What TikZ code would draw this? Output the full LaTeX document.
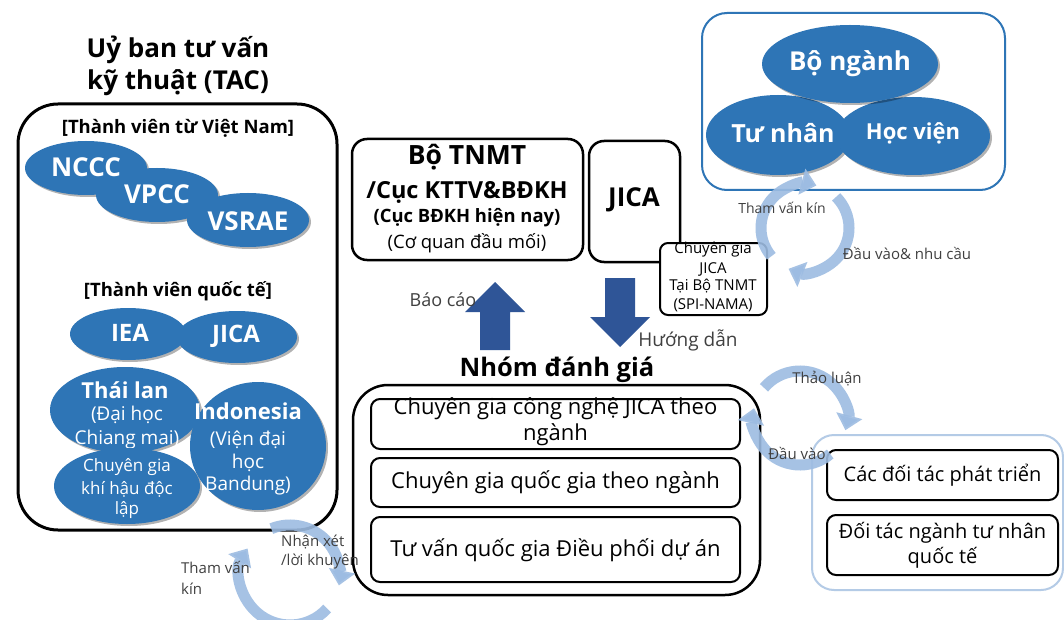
\documentclass[tikz,border=0pt]{standalone}
\usepackage{fontspec}
\setmainfont{Open Sans}
\usetikzlibrary{shapes.geometric,arrows.meta,shadows}
\definecolor{eblue}{HTML}{2E75B6}
\definecolor{ablue}{HTML}{2F5597}
\definecolor{tgray}{HTML}{404040}
\definecolor{lbox}{HTML}{B4CBE6}
\definecolor{cycblue}{HTML}{9DBCE2}
\newcommand{\fsz}[2]{\fontsize{#1}{#2}\selectfont}
\begin{document}
\begin{tikzpicture}[x=1pt,y=-1pt,
  blob/.style={ellipse, fill=eblue, draw=none, inner sep=0pt,
    drop shadow={shadow xshift=2pt, shadow yshift=-2pt, opacity=0.3, fill=black}},
  wt/.style={text=white, inner sep=0pt},
  tx/.style={inner sep=0pt},
  bigbox/.style={draw, line width=2.5pt, rounded corners=#1, inner sep=0pt, fill=white},
  inbox/.style={draw, line width=2pt, rounded corners=9pt, inner sep=0pt, fill=white},
  lbl/.style={inner sep=0pt, text=tgray},
  cyc/.style={line width=11pt, draw=cycblue, draw opacity=0.9,
    -{Triangle[width=26pt,length=15pt]}}
]
\useasboundingbox (0,0) rectangle (1064,620);
\fill[white] (0,0) rectangle (1064,620);

% ---------- TAC ----------
\node[tx, font=\bfseries\fsz{26}{32}, align=center] (tactitle) at (178,66) {Uỷ ban tư vấn\\kỹ thuật (TAC)};
\node[bigbox=40pt, line width=3pt, minimum width=319pt, minimum height=426pt] (tac) at (177.5,317) {};
\node[tx, font=\bfseries\fsz{18.5}{22}] (vn) at (178,128) {[Thành viên từ Việt Nam]};
\node[blob, minimum width=122pt, minimum height=54pt] (nccc) at (86,168) {};
\node[blob, minimum width=122pt, minimum height=54pt] (vpcc) at (157,195) {};
\node[blob, minimum width=122pt, minimum height=54pt] (vsrae) at (248,220) {};
\node[wt, font=\bfseries\fsz{26}{30}] at (86,167) {NCCC};
\node[wt, font=\bfseries\fsz{26}{30}] at (157,194) {VPCC};
\node[wt, font=\bfseries\fsz{26}{30}] at (248,221) {VSRAE};

\node[tx, font=\bfseries\fsz{18.5}{22}] (qt) at (178,291) {[Thành viên quốc tế]};
\node[blob, minimum width=116pt, minimum height=52pt] (iea) at (128,334) {};
\node[blob, minimum width=120pt, minimum height=52pt] (jica2) at (237,337) {};
\node[wt, font=\bfseries\fsz{24}{28}] at (130,333) {IEA};
\node[wt, font=\bfseries\fsz{24}{28}] at (236,336) {JICA};

\node[blob, minimum width=150pt, minimum height=86pt] (thai) at (125,410) {};
\node[wt, font=\bfseries\fsz{22}{26}] at (125,390) {Thái lan};
\node[wt, font=\fsz{19}{22}] at (127,415) {(Đại học};
\node[wt, font=\fsz{19}{22}] at (127,440) {Chiang mai)};
\node[blob, minimum width=146pt, minimum height=76pt] (cg) at (127,486) {};
\node[wt, font=\fsz{17}{20}] at (127,467) {Chuyên gia};
\node[wt, font=\fsz{17}{20}] at (127,489) {khí hậu độc};
\node[wt, font=\fsz{17}{20}] at (127,510) {lập};
\node[blob, minimum width=136pt, minimum height=128pt] (indo) at (258,446) {};
\node[wt, font=\bfseries\fsz{22}{26}] at (248,411) {Indonesia};
\node[wt, font=\fsz{19}{22}] at (248,440) {(Viện đại};
\node[wt, font=\fsz{19}{22}] at (248,463) {học};
\node[wt, font=\fsz{19}{22}] at (248,486) {Bandung)};

% ---------- Bo TNMT / JICA ----------
\node[bigbox=15pt, minimum width=231pt, minimum height=121pt] (tnmt) at (467.5,199.5) {};
\node[tx, font=\bfseries\fsz{26.5}{30}] at (467,157) {Bộ TNMT};
\node[tx, font=\bfseries\fsz{23.5}{28}] at (467,192) {/Cục KTTV\&BĐKH};
\node[tx, font=\bfseries\fsz{18.4}{22}] at (467,218) {(Cục BĐKH hiện nay)};
\node[tx, font=\fsz{18.5}{22}] at (467,243) {(Cơ quan đầu mối)};

\node[bigbox=15pt, minimum width=91pt, minimum height=121pt] (jica) at (634.5,201.5) {};
\node[tx, font=\bfseries\fsz{26}{30}] at (634,200) {JICA};

\node[inbox, rounded corners=8pt, minimum width=107pt, minimum height=72pt] (spi) at (713.5,279) {};
\begin{scope}
\clip (spi.north west) ++(0,-1) rectangle (spi.south east);
\node[tx, font=\fsz{15}{18}] at (713,250) {Chuyên gia};
\end{scope}
\node[tx, font=\fsz{15}{18}] at (713,269) {JICA};
\node[tx, font=\fsz{15}{18}] at (713,286) {Tại Bộ TNMT};
\node[tx, font=\fsz{15}{18}] at (713,305) {(SPI-NAMA)};

% block arrows
\fill[ablue] (495,282) -- (525,312) -- (510,312) -- (510,350) -- (480,350) -- (480,312) -- (465,312) -- cycle;
\fill[ablue] (605,278) -- (635,278) -- (635,317) -- (650,317) -- (620,347) -- (590,317) -- (605,317) -- cycle;
\node[lbl, font=\fsz{18}{21}] (baocao) at (443,300) {Báo cáo};
\node[lbl, font=\fsz{19}{22}] (huongdan) at (688,340) {Hướng dẫn};

% ---------- Nhom danh gia ----------
\node[tx, font=\bfseries\fsz{25.5}{30}] (nhomt) at (557,370) {Nhóm đánh giá};
\node[bigbox=35pt, minimum width=407pt, minimum height=210pt] (nhom) at (556.5,490) {};
\node[inbox, minimum width=369pt, minimum height=50pt] (b1) at (555.5,424) {};
\node[tx, font=\fsz{22}{26}, align=center] at (555.5,422) {Chuyên gia công nghệ JICA theo\\ngành};
\node[inbox, minimum width=369pt, minimum height=49pt] (b2) at (555.5,482.5) {};
\node[tx, font=\fsz{22}{26}] at (555.5,482) {Chuyên gia quốc gia theo ngành};
\node[inbox, minimum width=369pt, minimum height=65pt] (b3) at (555.5,549.5) {};
\node[tx, font=\fsz{22}{26}] at (555.5,550) {Tư vấn quốc gia Điều phối dự án};

% ---------- Top right group ----------
\node[draw=eblue, line width=2pt, rounded corners=25pt, inner sep=0pt, minimum width=303pt, minimum height=177pt] (grp) at (853.5,101.5) {};
\node[blob, minimum width=144pt, minimum height=80pt] (tunhan) at (778,135) {};
\node[blob, minimum width=154pt, minimum height=78pt] (hocvien) at (913,136) {};
\node[blob, minimum width=176pt, minimum height=78pt] (bonganh) at (850,64) {};
\node[wt, font=\bfseries\fsz{26}{30}] at (850,64) {Bộ ngành};
\node[wt, font=\bfseries\fsz{25}{30}] at (783,133) {Tư nhân};
\node[wt, font=\bfseries\fsz{22}{26}] at (913,133) {Học viện};

% ---------- Partners ----------
\node[draw=lbox, line width=2pt, rounded corners=22pt, inner sep=0pt, minimum width=251pt, minimum height=155pt] (part) at (937.5,512.5) {};
\node[inbox, minimum width=231pt, minimum height=50pt] (p1) at (942.5,475) {};
\node[tx, font=\fsz{20}{24}] at (942.5,475) {Các đối tác phát triển};
\node[inbox, minimum width=231pt, minimum height=60pt] (p2) at (942.5,545) {};
\node[tx, font=\fsz{20}{25}, align=center] at (942.5,545) {Đối tác ngành tư nhân\\quốc tế};

% ---------- Cycle arrows ----------
\coordinate (c1) at (805,228);
\draw[cyc] ([shift={(220:44pt)}]c1) arc[start angle=220, end angle=75, radius=44pt];
\draw[cyc] ([shift={(45:44pt)}]c1) arc[start angle=45, end angle=-112, radius=44pt];
\node[lbl, font=\fsz{14}{17}] at (782,208) {Tham vấn kín};
\node[lbl, font=\fsz{15}{18}] at (907,253) {Đầu vào\& nhu cầu};

\coordinate (c3) at (800,418);
\draw[cyc] ([shift={(140:47pt)}]c3) arc[start angle=140, end angle=-15, radius=47pt];
\draw[cyc] ([shift={(-50:47pt)}]c3) arc[start angle=-50, end angle=-192, radius=47pt];
\node[lbl, font=\fsz{15}{18}] at (827,379) {Thảo luận};
\node[lbl, font=\fsz{15}{18}] at (797,453) {Đầu vào};

\coordinate (c2) at (290,575);
\draw[cyc] ([shift={(112:50pt)}]c2) arc[start angle=112, end angle=-12, radius=50pt];
\draw[cyc] ([shift={(-42:50pt)}]c2) arc[start angle=-42, end angle=-212, radius=50pt];
\node[lbl, font=\fsz{15}{21}, anchor=west, align=left] at (181,578) {Tham vấn\\kín};
\node[lbl, font=\fsz{15}{19}, anchor=west, align=left] at (281,552) {Nhận xét\\/lời khuyên};
\end{tikzpicture}
\end{document}
